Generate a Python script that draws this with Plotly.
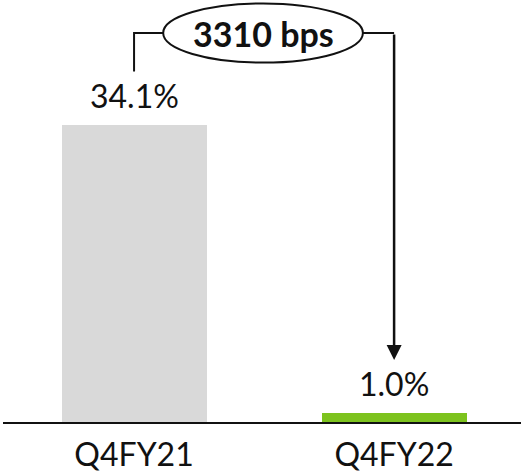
import plotly.graph_objects as go

categories = ["Q4FY21", "Q4FY22"]
values = [34.1, 1.0]
value_labels = ["34.1%", "1.0%"]
bar_colors = ["#d9d9d9", "#7dc31e"]
change_label = "3310 bps"

FONT = "Lato, 'Open Sans', sans-serif"
x_pos = list(range(len(categories)))

fig = go.Figure()
fig.add_trace(go.Bar(
    x=x_pos, y=values, width=0.558,
    marker=dict(color=bar_colors, line=dict(width=0)),
    hoverinfo="skip", showlegend=False,
))

for xi, v, lab in zip(x_pos, values, value_labels):
    fig.add_annotation(x=xi, y=v, text=lab, showarrow=False, yanchor="bottom",
                       yshift=8, font=dict(family=FONT, size=32, color="#111"))

top = max(values)
y_br = top + 10.56
y_start = top + 6.15
y_tip = min(values) + 6.12

# bracket lines
fig.add_shape(type="path", xref="x", yref="y",
              path=f"M {x_pos[0]},{y_start} L {x_pos[0]},{y_br} L 0.112,{y_br} M 0.88,{y_br} L {x_pos[1]},{y_br}",
              line=dict(color="#111", width=2))
# ellipse
fig.add_shape(type="circle", xref="x", yref="y", x0=0.112, x1=0.88,
              y0=y_br - 3.4, y1=y_br + 3.4,
              line=dict(color="#111", width=2), fillcolor="white")
fig.add_annotation(x=(0.112 + 0.88) / 2, y=y_br, text=f"<b>{change_label}</b>",
                   showarrow=False, font=dict(family=FONT, size=34, color="#111"))
# arrow
fig.add_annotation(x=x_pos[1], y=y_tip, ax=x_pos[1], ay=y_br, axref="x", ayref="y",
                   xref="x", yref="y", text="", showarrow=True,
                   arrowhead=2, arrowsize=1.2, arrowwidth=2.5, arrowcolor="#111")

fig.update_layout(
    width=521, height=472,
    margin=dict(l=3, r=0, t=0, b=50),
    paper_bgcolor="white", plot_bgcolor="white",
    bargap=0,
    xaxis=dict(range=[-0.504, 1.488], tickvals=x_pos, ticktext=categories,
               showline=True, linecolor="#111", linewidth=2, showgrid=False,
               zeroline=False, ticks="", fixedrange=True, ticklabelstandoff=4,
               tickfont=dict(family=FONT, size=32, color="#111")),
    yaxis=dict(range=[0, 48.45], visible=False, fixedrange=True),
)
fig.write_html("out.html", config={"displayModeBar": False},
               post_script="document.body.style.margin='0';document.body.style.overflow='hidden';")
